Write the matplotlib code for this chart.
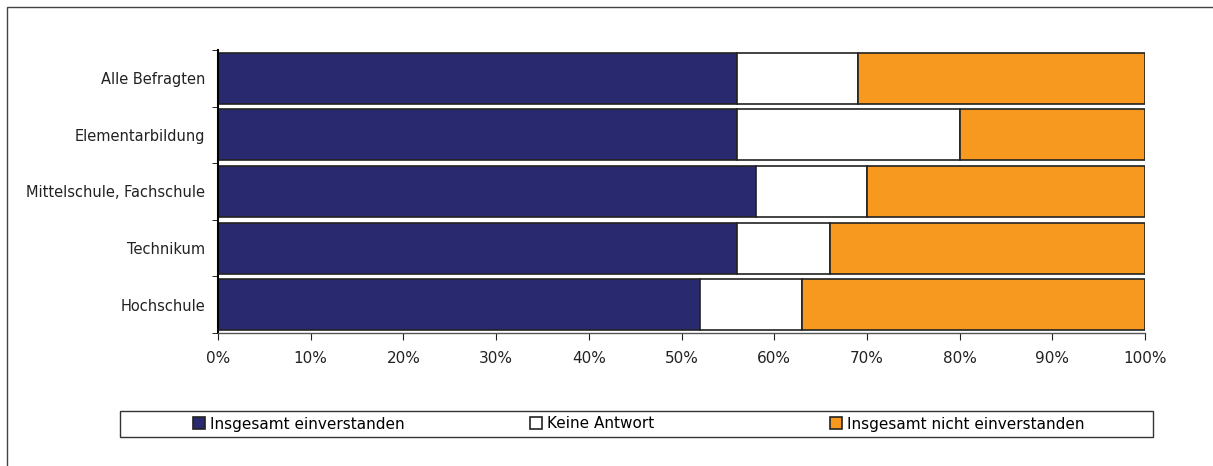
import numpy as np
import matplotlib
matplotlib.use("Agg")
import matplotlib.pyplot as plt
from matplotlib.patches import Rectangle
from matplotlib.ticker import PercentFormatter

categories = ["Alle Befragten", "Elementarbildung", "Mittelschule, Fachschule",
              "Technikum", "Hochschule"]
series_names = ["Insgesamt einverstanden", "Keine Antwort",
                "Insgesamt nicht einverstanden"]
einverstanden = [56, 56, 58, 56, 52]
keine_antwort = [13, 24, 12, 10, 11]
nicht_einverstanden = [31, 20, 30, 34, 37]
colors = ["#29296f", "#ffffff", "#f7991f"]

plt.rcParams['font.family'] = ['DejaVu Sans']

fig = plt.figure(figsize=(12.13, 4.66), dpi=100)
W, H = 1213, 466
ax = fig.add_axes([218 / W, 1 - 333 / H, (1145 - 218) / W, (333 - 50) / H])

y = np.arange(len(categories))
left = np.zeros(len(categories))
for vals, name, col in zip([einverstanden, keine_antwort, nicht_einverstanden],
                           series_names, colors):
    ax.barh(y, vals, left=left, height=0.9, color=col, edgecolor="#222222",
            linewidth=1.2, label=name)
    left = left + np.array(vals)

ax.set_xlim(0, 100)
ax.set_ylim(len(categories) - 0.5, -0.5)
ax.set_yticks(y)
ax.set_yticklabels(categories, fontsize=10.5, color="#222222")
ax.set_xticks(np.arange(0, 101, 10))
ax.xaxis.set_major_formatter(PercentFormatter(decimals=0))
ax.tick_params(axis="x", labelsize=11, direction="out", length=5,
               pad=8, colors="#222222")
ax.tick_params(axis="y", length=0, pad=9)
ax.set_yticks(np.arange(-0.5, len(categories), 1), minor=True)
ax.tick_params(axis="y", which="minor", length=4, direction="out")
for s in ["top", "right"]:
    ax.spines[s].set_visible(False)
ax.spines["left"].set_linewidth(1.5)
ax.spines["bottom"].set_linewidth(1.0)
ax.spines["bottom"].set_color("#555555")

# outer frame
fig.patches.append(Rectangle((7 / W, -0.1), 1.2, 1 - 7 / H + 0.1,
                             transform=fig.transFigure, fill=False,
                             edgecolor="#444444", linewidth=1.0))
# legend box
fig.patches.append(Rectangle((120 / W, 1 - 437 / H), (1153 - 120) / W, 26 / H,
                             transform=fig.transFigure, fill=False,
                             edgecolor="#333333", linewidth=1.0))
handles, labels = ax.get_legend_handles_labels()
legend_x = [195, 532, 832]
for h, l, lx in zip(handles, labels, legend_x):
    fig.legend([h], [l], loc="center left", frameon=False,
               bbox_to_anchor=((lx - 2) / W, 1 - 424 / H), fontsize=11,
               handlelength=0.8, handleheight=0.8, handletextpad=0.3,
               borderpad=0, borderaxespad=0)

fig.savefig("out.png", dpi=100)
